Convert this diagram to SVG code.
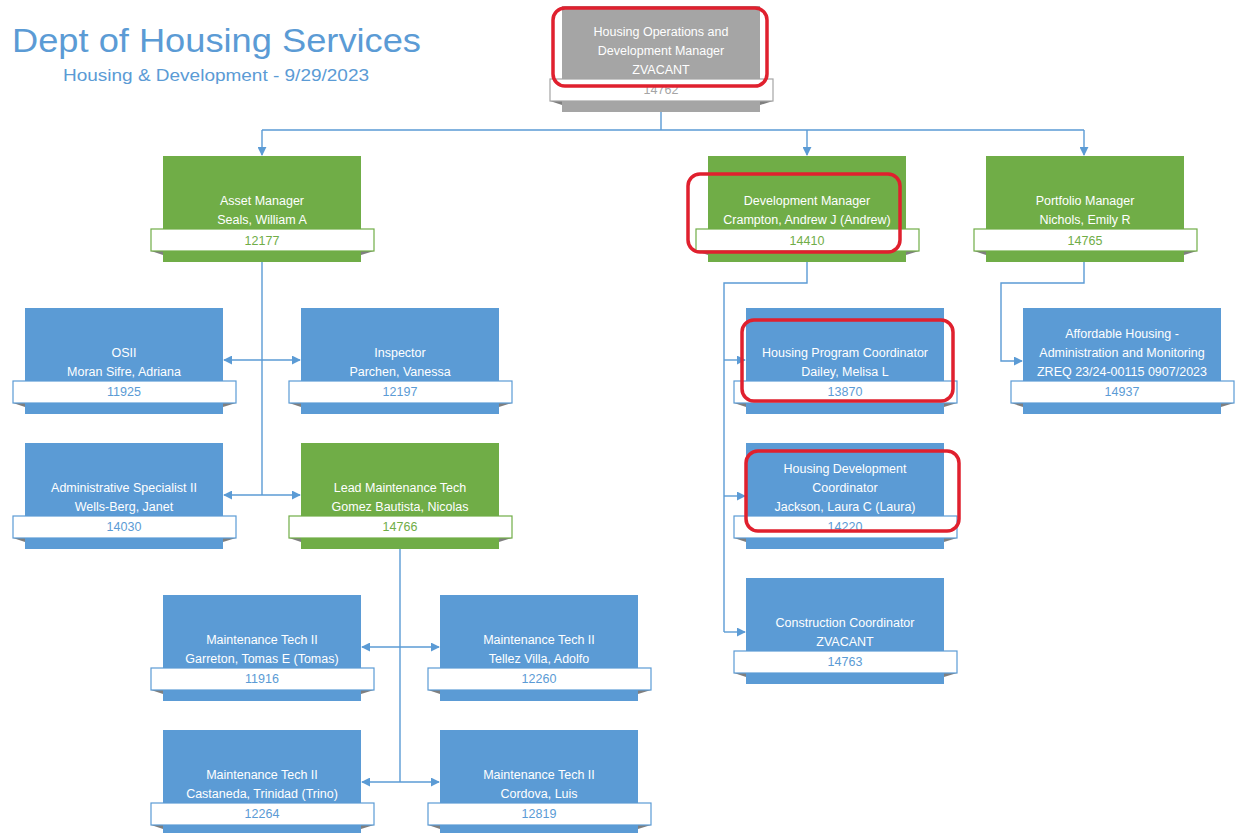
<svg xmlns="http://www.w3.org/2000/svg" width="1235" height="833" viewBox="0 0 1235 833">
<defs>
<style>
.t{font-family:"Liberation Sans",Arial,sans-serif;font-size:12.5px;fill:#fff;text-anchor:middle}
.n{font-family:"Liberation Sans",Arial,sans-serif;font-size:12.5px;text-anchor:middle;fill:currentColor}
.green{color:#70AD47}
.blue{color:#5B9BD5}
.gray{color:#A5A5A5}
.box{fill:currentColor}
.ban{fill:#fff;stroke:currentColor;stroke-width:1.2}
.fold{fill:#7F7F7F}
.c{fill:none;stroke:#5B9BD5;stroke-width:1.4}
.hl{fill:none;stroke:#E0202E;stroke-width:3.5}
</style>
<marker id="ar" viewBox="0 0 10 10" refX="9" refY="5" markerWidth="9" markerHeight="9" markerUnits="userSpaceOnUse" orient="auto-start-reverse"><path d="M0,0 L10,5 L0,10 z" fill="#5B9BD5"/></marker>
<g id="frame">
<rect class="box" x="0" y="0" width="198" height="106"/>
<polygon class="fold" points="-12,95 0,95 0,99"/>
<polygon class="fold" points="211,95 198,95 198,99"/>
<rect class="ban" x="-12" y="73" width="223" height="22"/>
</g>
</defs>

<text x="12" y="52" font-family="'Liberation Sans',Arial,sans-serif" font-size="34" fill="#5B9BD5" textLength="409" lengthAdjust="spacingAndGlyphs">Dept of Housing Services</text>
<text x="63" y="81" font-family="'Liberation Sans',Arial,sans-serif" font-size="16" fill="#5B9BD5" textLength="306" lengthAdjust="spacingAndGlyphs">Housing &amp; Development - 9/29/2023</text>

<g id="connectors">
<path class="c" d="M661,112 V130 M262,130 H1084"/>
<path class="c" d="M262,130 V155" marker-end="url(#ar)"/>
<path class="c" d="M807,130 V155" marker-end="url(#ar)"/>
<path class="c" d="M1084,130 V155" marker-end="url(#ar)"/>
<path class="c" d="M262,262 V495"/>
<path class="c" d="M224,360 H300" marker-start="url(#ar)" marker-end="url(#ar)"/>
<path class="c" d="M224,495 H300" marker-start="url(#ar)" marker-end="url(#ar)"/>
<path class="c" d="M400,549 V782"/>
<path class="c" d="M362,647 H439" marker-start="url(#ar)" marker-end="url(#ar)"/>
<path class="c" d="M362,782 H439" marker-start="url(#ar)" marker-end="url(#ar)"/>
<path class="c" d="M807,262 V283 H724 V632"/>
<path class="c" d="M724,360 H745" marker-end="url(#ar)"/>
<path class="c" d="M724,496 H745" marker-end="url(#ar)"/>
<path class="c" d="M724,632 H745" marker-end="url(#ar)"/>
<path class="c" d="M1084,262 V283 H1001 V361 H1022" marker-end="url(#ar)"/>
</g>

<g id="n-top" class="gray" transform="translate(562,6)"><use href="#frame"/>
<text class="t" x="99" y="30">Housing Operations and</text><text class="t" x="99" y="49">Development Manager</text><text class="t" x="99" y="68">ZVACANT</text><text class="n" x="99" y="88">14762</text></g>

<g id="n-asset" class="green" transform="translate(163,156)"><use href="#frame"/>
<text class="t" x="99" y="49">Asset Manager</text><text class="t" x="99" y="68">Seals, William A</text><text class="n" x="99" y="89">12177</text></g>

<g id="n-dev" class="green" transform="translate(708,156)"><use href="#frame"/>
<text class="t" x="99" y="49">Development Manager</text><text class="t" x="99" y="68">Crampton, Andrew J (Andrew)</text><text class="n" x="99" y="89">14410</text></g>

<g id="n-portfolio" class="green" transform="translate(986,156)"><use href="#frame"/>
<text class="t" x="99" y="49">Portfolio Manager</text><text class="t" x="99" y="68">Nichols, Emily R</text><text class="n" x="99" y="89">14765</text></g>

<g id="n-osii" class="blue" transform="translate(25,308)"><use href="#frame"/>
<text class="t" x="99" y="49">OSII</text><text class="t" x="99" y="68">Moran Sifre, Adriana</text><text class="n" x="99" y="88">11925</text></g>

<g id="n-inspector" class="blue" transform="translate(301,308)"><use href="#frame"/>
<text class="t" x="99" y="49">Inspector</text><text class="t" x="99" y="68">Parchen, Vanessa</text><text class="n" x="99" y="88">12197</text></g>

<g id="n-admin" class="blue" transform="translate(25,443)"><use href="#frame"/>
<text class="t" x="99" y="49">Administrative Specialist II</text><text class="t" x="99" y="68">Wells-Berg, Janet</text><text class="n" x="99" y="88">14030</text></g>

<g id="n-lead" class="green" transform="translate(301,443)"><use href="#frame"/>
<text class="t" x="99" y="49">Lead Maintenance Tech</text><text class="t" x="99" y="68">Gomez Bautista, Nicolas</text><text class="n" x="99" y="88">14766</text></g>

<g id="n-hpc" class="blue" transform="translate(746,308)"><use href="#frame"/>
<text class="t" x="99" y="49">Housing Program Coordinator</text><text class="t" x="99" y="68">Dailey, Melisa L</text><text class="n" x="99" y="88">13870</text></g>

<g id="n-hdc" class="blue" transform="translate(746,443)"><use href="#frame"/>
<text class="t" x="99" y="30">Housing Development</text><text class="t" x="99" y="49">Coordinator</text><text class="t" x="99" y="68">Jackson, Laura C (Laura)</text><text class="n" x="99" y="88">14220</text></g>

<g id="n-cc" class="blue" transform="translate(746,578)"><use href="#frame"/>
<text class="t" x="99" y="49">Construction Coordinator</text><text class="t" x="99" y="68">ZVACANT</text><text class="n" x="99" y="88">14763</text></g>

<g id="n-afford" class="blue" transform="translate(1023,308)"><use href="#frame"/>
<text class="t" x="99" y="30">Affordable Housing -</text><text class="t" x="99" y="49">Administration and Monitoring</text><text class="t" x="99" y="68">ZREQ 23/24-00115 0907/2023</text><text class="n" x="99" y="88">14937</text></g>

<g id="n-garreton" class="blue" transform="translate(163,595)"><use href="#frame"/>
<text class="t" x="99" y="49">Maintenance Tech II</text><text class="t" x="99" y="68">Garreton, Tomas E (Tomas)</text><text class="n" x="99" y="88">11916</text></g>

<g id="n-tellez" class="blue" transform="translate(440,595)"><use href="#frame"/>
<text class="t" x="99" y="49">Maintenance Tech II</text><text class="t" x="99" y="68">Tellez Villa, Adolfo</text><text class="n" x="99" y="88">12260</text></g>

<g id="n-castaneda" class="blue" transform="translate(163,730)"><use href="#frame"/>
<text class="t" x="99" y="49">Maintenance Tech II</text><text class="t" x="99" y="68">Castaneda, Trinidad (Trino)</text><text class="n" x="99" y="88">12264</text></g>

<g id="n-cordova" class="blue" transform="translate(440,730)"><use href="#frame"/>
<text class="t" x="99" y="49">Maintenance Tech II</text><text class="t" x="99" y="68">Cordova, Luis</text><text class="n" x="99" y="88">12819</text></g>

<g id="highlights">
<rect class="hl" x="553" y="8" width="214" height="78" rx="12"/>
<rect class="hl" x="688" y="174" width="212" height="78" rx="12"/>
<rect class="hl" x="742" y="320" width="211" height="81" rx="12"/>
<rect class="hl" x="746" y="451" width="213" height="80" rx="12"/>
</g>
</svg>
